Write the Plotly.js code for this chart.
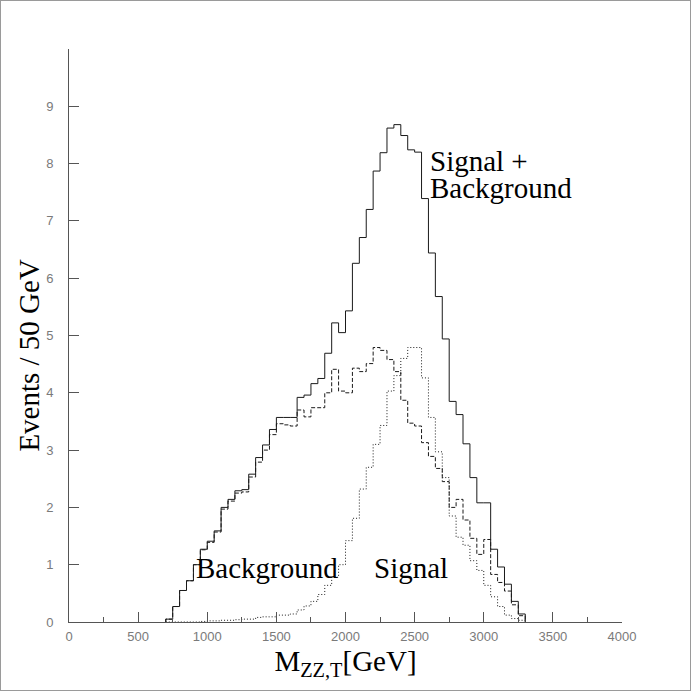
<!DOCTYPE html>
<html>
<head>
<meta charset="utf-8">
<script src="https://cdn.plot.ly/plotly-3.0.1.min.js"></script>
<style>
  html, body { margin: 0; padding: 0; background: #fff; }
  #wrap { position: relative; width: 692px; height: 692px; }
  #chart { position: absolute; left: 0; top: 0; width: 692px; height: 692px; }
  #frame { position: absolute; left: 0; top: 0; width: 689px; height: 689px;
           border: 1px solid #9a9a9a; pointer-events: none; }
</style>
</head>
<body>
<div id="wrap"><div id="chart"></div><div id="frame"></div></div>
<script>
// Lower edges of the 50 GeV bins (GeV)
const binLow = [700, 750, 800, 850, 900, 950, 1000, 1050, 1100, 1150, 1200, 1250, 1300,
  1350, 1400, 1450, 1500, 1550, 1600, 1650, 1700, 1750, 1800, 1850, 1900, 1950, 2000,
  2050, 2100, 2150, 2200, 2250, 2300, 2350, 2400, 2450, 2500, 2550, 2600, 2650, 2700,
  2750, 2800, 2850, 2900, 2950, 3000, 3050, 3100, 3150, 3200, 3250];
const binHigh = 3300;

// Events / 50 GeV
const signalPlusBackground = [0.05, 0.27, 0.55, 0.72, 1.00, 1.27, 1.41, 1.59, 2.00, 2.14, 2.29, 2.31, 2.58,
  2.87, 3.09, 3.36, 3.57, 3.57, 3.57, 3.92, 3.96, 4.16, 4.25, 4.69, 5.22, 5.05, 5.43,
  6.26, 6.71, 7.20, 7.87, 8.19, 8.62, 8.68, 8.49, 8.24, 8.20, 7.39, 6.44, 5.68, 4.94,
  3.85, 3.62, 3.11, 2.52, 2.08, 2.08, 1.27, 0.96, 0.66, 0.36, 0.14];
const background = [0.05, 0.27, 0.55, 0.72, 1.00, 1.26, 1.39, 1.57, 1.97, 2.11, 2.25, 2.27, 2.53,
  2.79, 3.00, 3.27, 3.46, 3.44, 3.42, 3.70, 3.58, 3.74, 3.74, 4.00, 4.41, 4.03, 4.00,
  4.43, 4.37, 4.51, 4.79, 4.74, 4.58, 4.37, 3.87, 3.47, 3.42, 3.13, 2.89, 2.68, 2.45,
  2.00, 2.14, 1.78, 1.46, 1.18, 1.44, 0.83, 0.69, 0.54, 0.30, 0.11];
const signal = [0, 0, 0, 0, 0, 0.01, 0.02, 0.02, 0.03, 0.03, 0.04, 0.05, 0.05,
  0.08, 0.09, 0.09, 0.12, 0.12, 0.14, 0.21, 0.28, 0.36, 0.48, 0.64, 0.78, 1.00, 1.42,
  1.81, 2.32, 2.70, 3.10, 3.43, 4.03, 4.30, 4.60, 4.79, 4.79, 4.26, 3.57, 2.97, 2.52,
  1.85, 1.48, 1.34, 1.07, 0.90, 0.64, 0.44, 0.27, 0.12, 0.06, 0.03];

const xTicks = [0, 500, 1000, 1500, 2000, 2500, 3000, 3500, 4000];
const yTicks = [0, 1, 2, 3, 4, 5, 6, 7, 8, 9];

// Build step outline: start at baseline, one point per bin, close at upper edge.
function stepX() { return [binLow[0]].concat(binLow, [binHigh]); }
function stepY(v) { return [0].concat(v, [0]); }

const lineCol = '#1a1a1a';
const traces = [
  { x: stepX(), y: stepY(signalPlusBackground), mode: 'lines', line: { shape: 'hv', color: lineCol, width: 1 }, name: 'Signal + Background' },
  { x: stepX(), y: stepY(background), mode: 'lines', line: { shape: 'hv', color: lineCol, width: 1, dash: '4px,2px' }, name: 'Background' },
  { x: stepX(), y: stepY(signal), mode: 'lines', line: { shape: 'hv', color: lineCol, width: 1, dash: '1px,2px' }, name: 'Signal' }
];

const serif = 'Liberation Serif, Times New Roman, serif';
const bigFont = { family: serif, size: 29, color: '#000' };
const tickFont = { family: 'Liberation Sans, Arial, sans-serif', size: 13, color: '#7a7a7a' };
const layout = {
  width: 692, height: 692,
  margin: { l: 69, r: 70, t: 49, b: 70 },
  paper_bgcolor: '#fff', plot_bgcolor: '#fff',
  showlegend: false,
  xaxis: {
    range: [0, 4000], tickvals: xTicks, ticktext: xTicks.map(String),
    ticks: 'inside', ticklen: 10, tickcolor: '#555', tickwidth: 1,
    minor: { dtick: 250, ticks: 'inside', ticklen: 5, tickcolor: '#555' },
    showline: true, linecolor: '#555', linewidth: 1, zeroline: false, showgrid: false,
    tickfont: tickFont, ticklabelstandoff: 2,
    title: { text: 'M<sub>ZZ,T</sub>[GeV]', font: bigFont, standoff: 8 }
  },
  yaxis: {
    range: [0, 10], tickvals: yTicks, ticktext: yTicks.map(String),
    ticks: 'inside', ticklen: 10, tickcolor: '#555', tickwidth: 1,
    showline: true, linecolor: '#555', linewidth: 1, zeroline: false, showgrid: false,
    tickfont: tickFont, ticklabelstandoff: 12
  },
  annotations: [
    { x: -0.073, y: 0.466, xref: 'paper', yref: 'paper', xanchor: 'center', yanchor: 'middle',
      textangle: -90, showarrow: false, text: 'Events / 50 GeV', font: bigFont },
    { x: 2600, y: 8.04, xref: 'x', yref: 'y', xanchor: 'left', yanchor: 'middle', showarrow: false,
      text: 'Signal +', font: bigFont },
    { x: 2600, y: 7.57, xref: 'x', yref: 'y', xanchor: 'left', yanchor: 'middle', showarrow: false,
      text: 'Background', font: bigFont },
    { x: 903, y: 0.94, xref: 'x', yref: 'y', xanchor: 'left', yanchor: 'middle', showarrow: false,
      text: 'Background', font: bigFont },
    { x: 2190, y: 0.94, xref: 'x', yref: 'y', xanchor: 'left', yanchor: 'middle', showarrow: false,
      text: 'Signal', font: bigFont }
  ]
};

Plotly.newPlot('chart', traces, layout, { staticPlot: true, displayModeBar: false });
</script>
</body>
</html>
